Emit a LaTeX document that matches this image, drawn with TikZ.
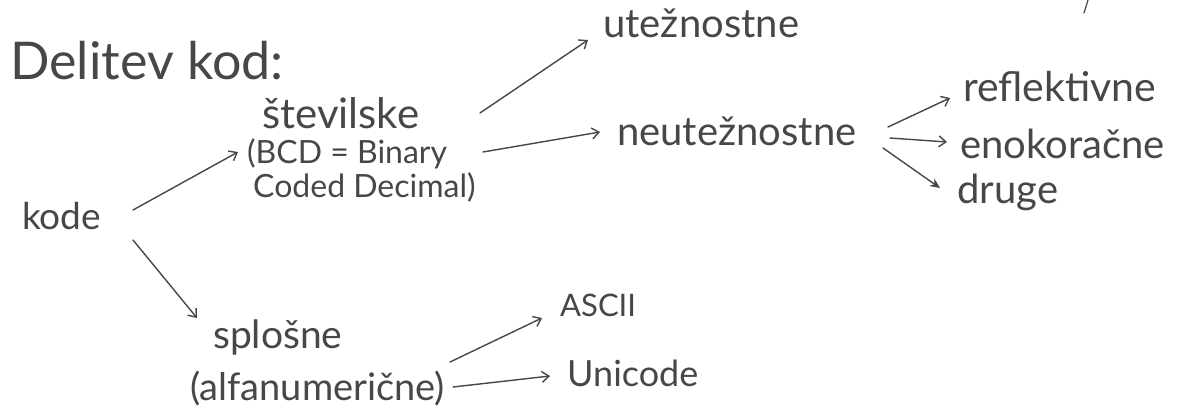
\documentclass[tikz,border=0pt]{standalone}
\usepackage{fontspec}
\setmainfont{Lato}
\usetikzlibrary{arrows.meta}
\definecolor{ink}{HTML}{474747}
\begin{document}
\begin{tikzpicture}[x=1pt,y=-1pt,
  lbl/.style={anchor=base west, inner sep=0pt, text=ink, font=\fontsize{40}{44}\selectfont},
  fs/.style={font=\fontsize{#1}{#1}\selectfont},
  arr/.style={draw=ink, line width=1.4pt, line cap=round, -{Straight Barb[length=7pt,width=11pt,line width=1.4pt]}},
  farr/.style={draw=ink, line width=1.4pt, line cap=round, -{Stealth[length=10pt,width=9pt]}}]
\useasboundingbox[fill=white] (0,0) rectangle (1178,412);

\node[lbl, fs=52] (title) at (10,80) {Delitev kod:};
\node[lbl, fs=37] (kode) at (22,229) {kode};
\node[lbl, fs=42] (stev) at (262,128) {številske};
\node[lbl, fs=32] (bcd) at (247,163) {(BCD = Binary};
\node[lbl, fs=32] (cdec) at (253,197) {Coded Decimal)};
\node[lbl] (ute) at (603,38) {utežnostne};
\node[lbl] (neute) at (617,145) {neutežnostne};
\node[lbl, fs=41] (refl) at (963,101) {reflektivne};
\node[lbl] (eno) at (960,158) {enokoračne};
\node[lbl] (druge) at (957,203) {druge};
\node[lbl, fs=39] (splo) at (213,348) {splošne};
\node[lbl, fs=38] (alfa) at (190,400) {(alfanumerične)};
\node[lbl, fs=31] (ascii) at (560,316) {ASCII};
\node[lbl, fs=36] (uni) at (567,386) {Unicode};

\draw[arr] ([shift={(111,-19)}]kode.base west) -- ([shift={(-9,-11)}]bcd.base west);
\draw[arr] ([shift={(111,11)}]kode.base west) -- ([shift={(-16,-30)}]splo.base west);
\draw[arr] ([shift={(218,-15)}]stev.base west) -- ([shift={(-15,2)}]ute.base west);
\draw[arr] ([shift={(236,-11)}]bcd.base west) -- ([shift={(-17,-13)}]neute.base west);
\draw[arr] ([shift={(271,-18)}]neute.base west) -- ([shift={(-13,-3)}]refl.base west);
\draw[arr] ([shift={(273,-7)}]neute.base west) -- ([shift={(-13,-16)}]eno.base west);
\draw[farr] ([shift={(266,3)}]neute.base west) -- ([shift={(-17,-15)}]druge.base west);
\draw[arr] ([shift={(260,-38)}]alfa.base west) -- ([shift={(-18,2)}]ascii.base west);
\draw[arr] ([shift={(263,-13)}]alfa.base west) -- ([shift={(-17,-10)}]uni.base west);

\draw[ink, line width=1.2pt, line cap=round] (1088,0) -- (1084,13);
\end{tikzpicture}
\end{document}
